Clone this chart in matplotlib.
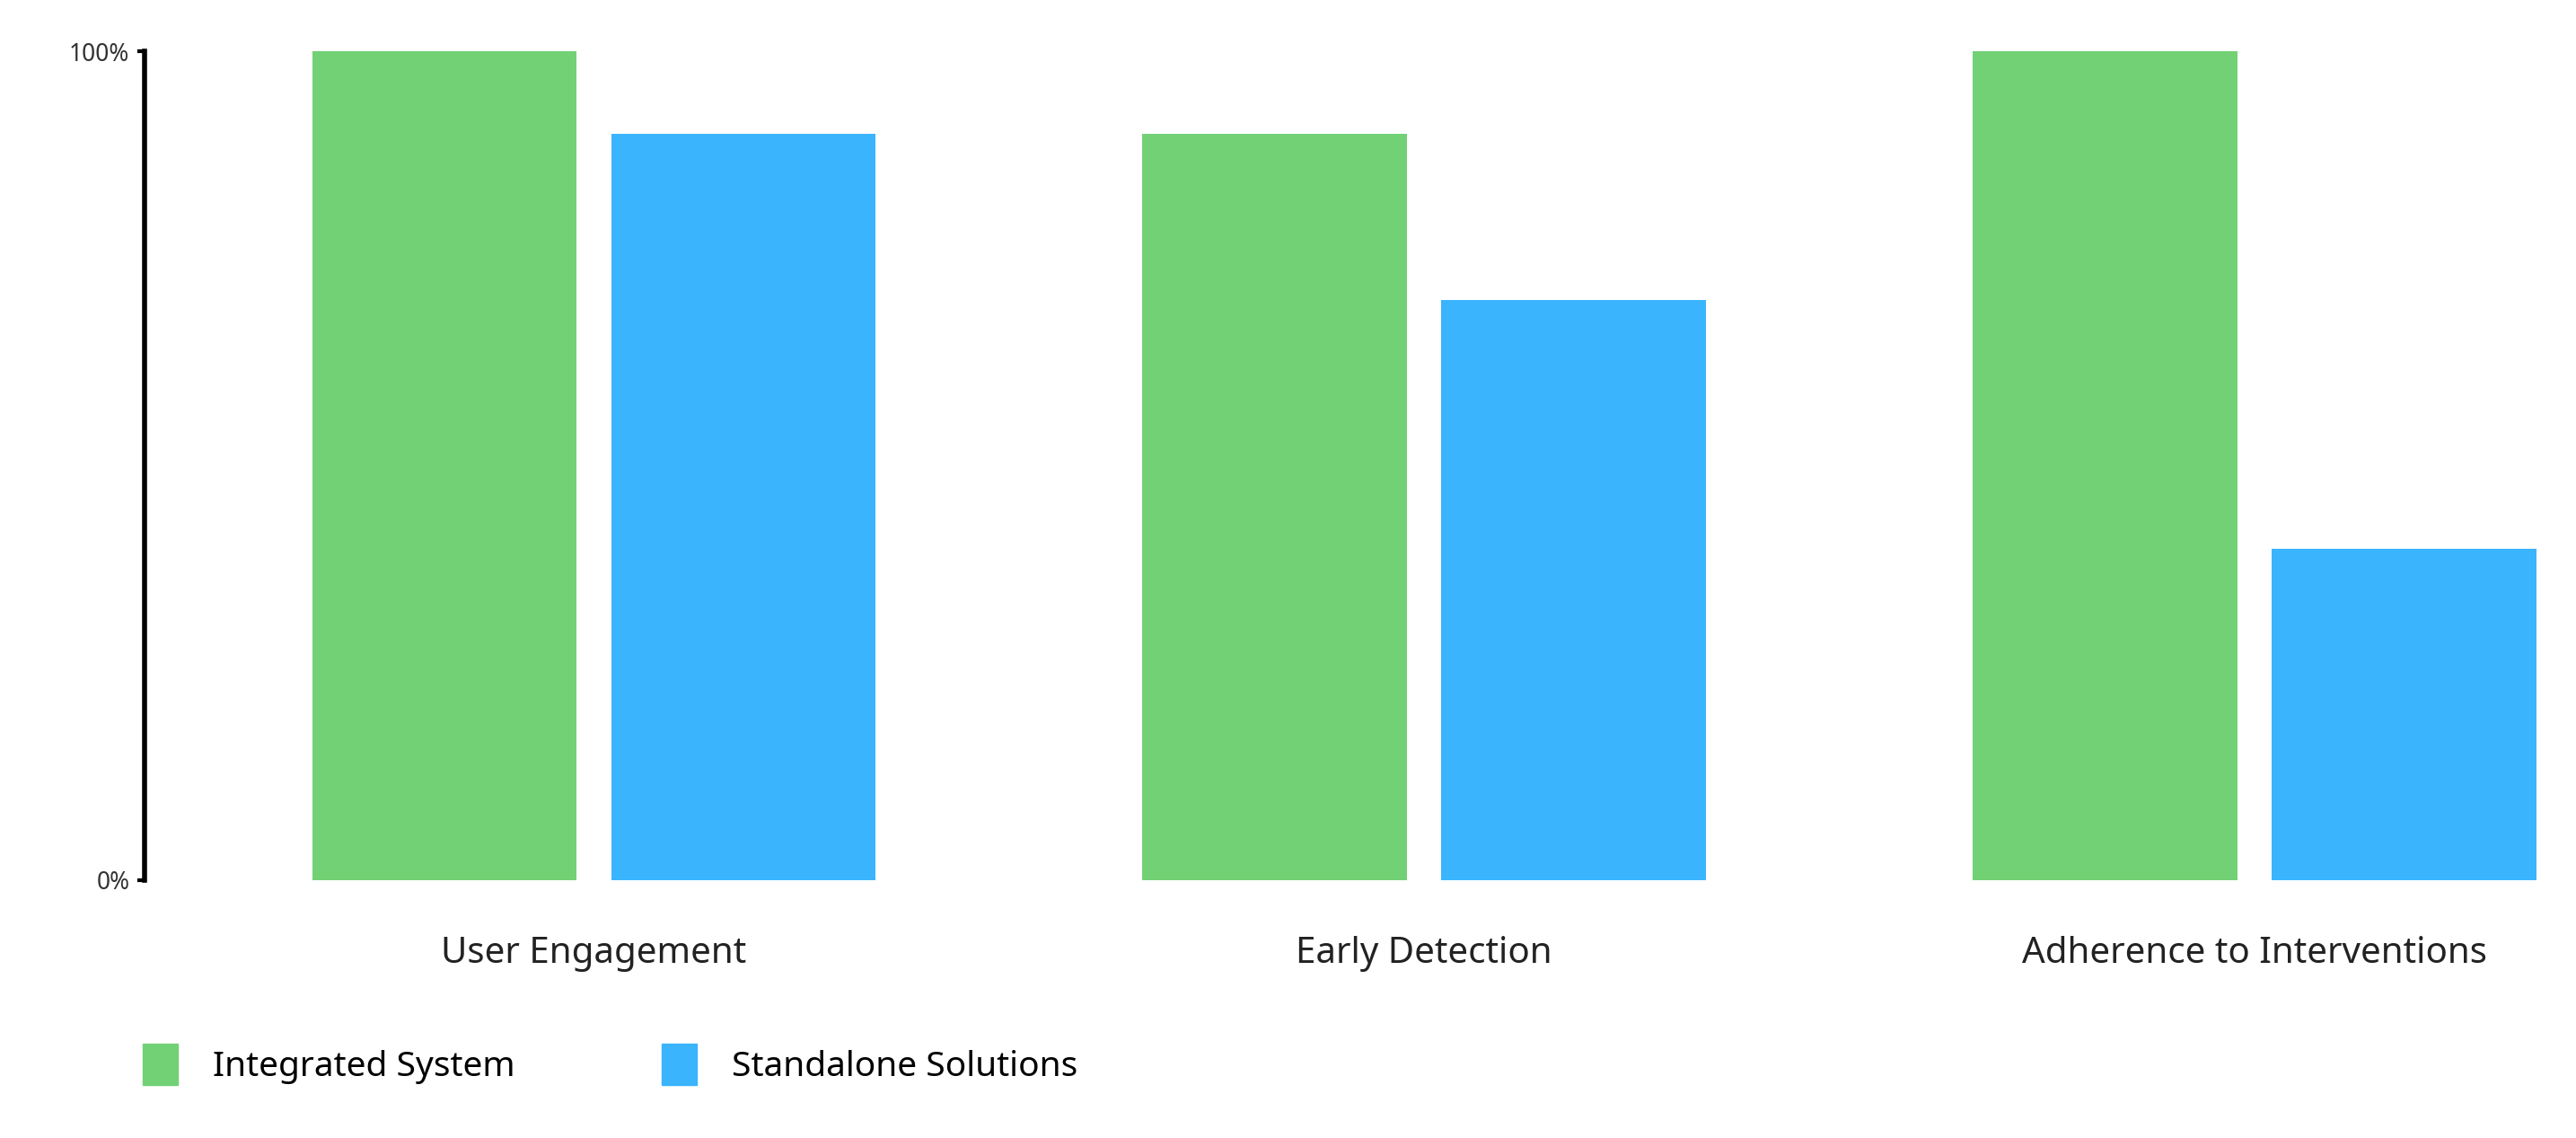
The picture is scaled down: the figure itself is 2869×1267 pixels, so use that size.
import numpy as np
import matplotlib.pyplot as plt
from matplotlib.patches import Patch

categories = ['User Engagement', 'Early Detection', 'Adherence to Interventions']
integrated = [100, 90, 100]
standalone = [90, 70, 40]
series_names = ['Integrated System', 'Standalone Solutions']
colors = ['#72d175', '#3bb4fe']

plt.rcParams['font.family'] = ['Noto Sans', 'DejaVu Sans']

fig = plt.figure(figsize=(28.69, 12.67), dpi=100)
ax = fig.add_axes([0.0561, 0.2269, 0.9439, 0.7281])

x = np.arange(len(categories))
w = 0.3185
ax.bar(x - 0.18, integrated, w, color=colors[0])
ax.bar(x + 0.18, standalone, w, color=colors[1])

ax.set_xlim(-0.541, 2.387)
ax.set_ylim(0, 100)
ax.set_yticks([0, 100])
ax.set_yticklabels(['0%', '100%'], fontsize=19, color='#333333')
ax.tick_params(axis='y', length=6, width=3, pad=6)
ax.set_xticks(x)
ax.set_xticklabels(categories, fontsize=29, color='#222222')
ax.tick_params(axis='x', length=0, pad=45)
for s in ['top', 'right', 'bottom']:
    ax.spines[s].set_visible(False)
ax.spines['left'].set_linewidth(4)

handles = [Patch(color=c) for c in colors]
fig.legend(handles, series_names, loc='upper left', bbox_to_anchor=(0.05, 0.095),
           ncol=2, frameon=False, fontsize=28, handlelength=1.0, handleheight=1.45,
           handletextpad=1.0, columnspacing=4.2, borderaxespad=0)

fig.savefig('out.png', dpi=100)
